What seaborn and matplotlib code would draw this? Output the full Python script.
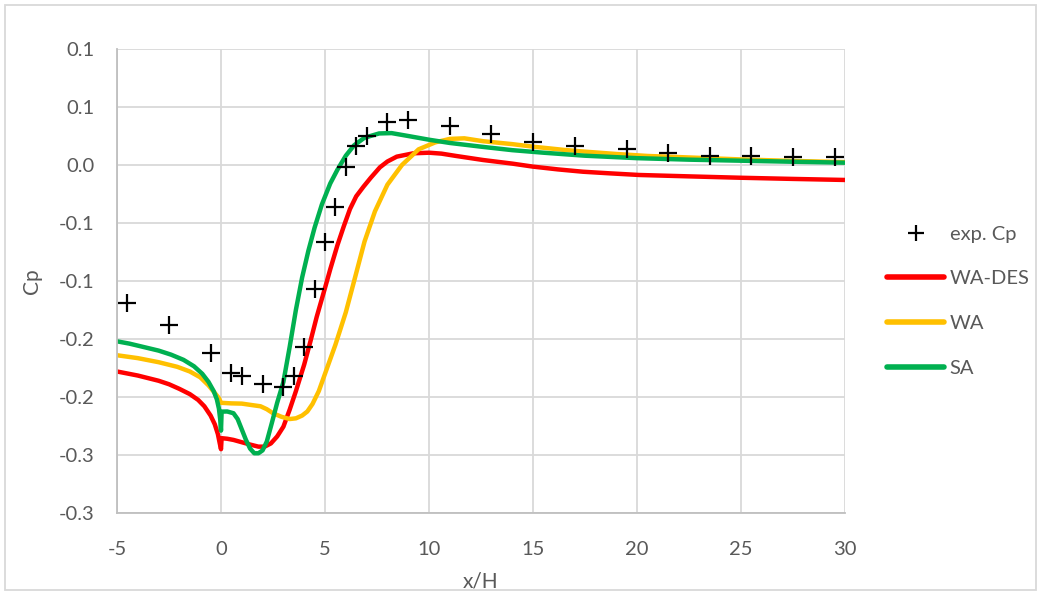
import matplotlib
matplotlib.use("Agg")
import matplotlib.pyplot as plt
from matplotlib.patches import Rectangle
from matplotlib.lines import Line2D
import pandas as pd
import seaborn as sns

# Experimental pressure coefficient
x_exp = [-4.5, -2.5, -0.5, 0.5, 1.0, 2.0, 3.0, 3.5, 4.0, 4.5, 5.0, 5.5, 6.0, 6.5, 7.0,
         8.0, 9.0, 11.0, 13.0, 15.0, 17.0, 19.5, 21.5, 23.5, 25.5, 27.5, 29.5]
cp_exp = [-0.119, -0.138, -0.162, -0.179, -0.182, -0.189, -0.191, -0.182, -0.157, -0.107,
          -0.066, -0.036, -0.002, 0.016, 0.025, 0.037, 0.039, 0.034, 0.027, 0.020, 0.016,
          0.014, 0.0106, 0.008, 0.0078, 0.0069, 0.0066]

# WA-DES
x_wades = [-5.0, -4.0, -3.0, -2.5, -2.0, -1.5, -1.1, -0.8, -0.5, -0.3, -0.15, -0.06, 0.0,
           0.03, 0.3, 0.6, 1.0, 1.4, 1.8, 2.1, 2.4, 2.7, 3.0, 3.3, 3.6, 4.0, 4.3, 4.6, 5.0,
           5.25, 5.6, 5.9, 6.2, 6.5, 6.85, 7.2, 7.64, 8.0, 8.45, 9.25, 10.0, 10.6, 11.3,
           12.6, 14.0, 15.0, 16.2, 17.4, 18.7, 20.1, 22.5, 25.0, 27.5, 30.0]
cp_wades = [-0.178, -0.1815, -0.186, -0.189, -0.193, -0.1975, -0.2025, -0.208, -0.216,
            -0.2235, -0.232, -0.240, -0.245, -0.2355, -0.236, -0.237, -0.239, -0.241,
            -0.2428, -0.2428, -0.240, -0.234, -0.2256, -0.211, -0.195, -0.172, -0.152,
            -0.131, -0.106, -0.090, -0.069, -0.053, -0.038, -0.027, -0.0187, -0.011,
            -0.002, 0.003, 0.0072, 0.0101, 0.0106, 0.0098, 0.0078, 0.0043, 0.0012, -0.0014,
            -0.0038, -0.0058, -0.0072, -0.0086, -0.0098, -0.011, -0.012, -0.0129]

# WA
x_wa = [-5.0, -4.0, -3.0, -2.1, -1.5, -1.0, -0.6, -0.3, -0.1, 0.0, 0.5, 1.0, 1.5, 1.9, 2.2,
        2.5, 2.9, 3.3, 3.6, 3.9, 4.15, 4.4, 4.7, 5.0, 5.5, 6.0, 6.4, 6.9, 7.4, 8.0, 8.7, 9.5,
        10.3, 11.0, 11.7, 12.6, 14.0, 15.0, 16.5, 17.5, 19.0, 20.5, 22.5, 25.0, 27.5, 30.0]
cp_wa = [-0.164, -0.1665, -0.170, -0.174, -0.178, -0.183, -0.190, -0.1965, -0.201, -0.205,
         -0.2055, -0.2057, -0.207, -0.208, -0.2105, -0.214, -0.217, -0.219, -0.2184, -0.216,
         -0.2125, -0.206, -0.195, -0.180, -0.155, -0.127, -0.100, -0.066, -0.040, -0.017,
         0.0, 0.0135, 0.0195, 0.0225, 0.023, 0.0205, 0.018, 0.0158, 0.013, 0.0115, 0.0095,
         0.0078, 0.0065, 0.0048, 0.0035, 0.0025]

# SA
x_sa = [-5.0, -4.4, -3.7, -3.0, -2.4, -1.8, -1.3, -0.9, -0.6, -0.35, -0.2, -0.1, -0.04, 0.0,
        0.03, 0.3, 0.6, 0.8, 1.0, 1.2, 1.4, 1.6, 1.8, 2.0, 2.2, 2.45, 2.7, 3.0, 3.3, 3.6,
        3.9, 4.2, 4.5, 4.85, 5.25, 5.6, 6.0, 6.4, 6.9, 7.6, 8.2, 9.0, 10.0, 11.0, 12.5,
        14.0, 15.5, 17.5, 20.0, 22.5, 25.0, 27.5, 30.0]
cp_sa = [-0.152, -0.154, -0.157, -0.160, -0.1635, -0.168, -0.1735, -0.180, -0.187, -0.195,
         -0.202, -0.210, -0.219, -0.229, -0.2126, -0.2125, -0.214, -0.219, -0.228, -0.237,
         -0.2445, -0.2485, -0.2485, -0.246, -0.2385, -0.222, -0.205, -0.187, -0.157, -0.125,
         -0.097, -0.074, -0.054, -0.034, -0.016, -0.004, 0.008, 0.017, 0.0235, 0.0272,
         0.0275, 0.025, 0.0218, 0.019, 0.0158, 0.0128, 0.0106, 0.0080, 0.0059, 0.0046,
         0.0037, 0.0028, 0.002]

x_ticks = [-5, 0, 5, 10, 15, 20, 25, 30]
y_ticks = [0.10, 0.05, 0.00, -0.05, -0.10, -0.15, -0.20, -0.25, -0.30]
y_tick_labels = ["0.1", "0.1", "0.0", "-0.1", "-0.1", "-0.2", "-0.2", "-0.3", "-0.3"]

series_names = ["WA-DES", "WA", "SA"]
series_colors = ["#FF0000", "#FFC000", "#00B050"]

sns.set_theme(style="white")
plt.rcParams["font.family"] = ["Lato", "DejaVu Sans"]

text_color = "#595959"
grid_color = "#D9D9D9"

fig = plt.figure(figsize=(10.41, 5.95), dpi=100)
fig.patches.append(Rectangle((0.005, 0.008), 0.99, 0.984, transform=fig.transFigure,
                             fill=False, edgecolor=grid_color, linewidth=1.3))

ax = fig.add_axes([117 / 1041, 1 - 513 / 595, (845 - 117) / 1041, (513 - 49) / 595])

lines_df = pd.concat([
    pd.DataFrame({"x": x_wades, "cp": cp_wades, "model": "WA-DES"}),
    pd.DataFrame({"x": x_wa, "cp": cp_wa, "model": "WA"}),
    pd.DataFrame({"x": x_sa, "cp": cp_sa, "model": "SA"}),
], ignore_index=True)
exp_df = pd.DataFrame({"x": x_exp, "cp": cp_exp})

sns.lineplot(data=lines_df, x="x", y="cp", hue="model", hue_order=series_names,
             palette=series_colors, linewidth=3.2, sort=False, estimator=None,
             legend=False, ax=ax, solid_capstyle="round", solid_joinstyle="round")
sns.scatterplot(data=exp_df, x="x", y="cp", marker="+", color="black", s=150,
                linewidth=1.6, zorder=5, legend=False, ax=ax)

ax.set_xlim(-5, 30)
ax.set_ylim(-0.30, 0.10)
ax.set_xticks(x_ticks)
ax.set_xticklabels([str(t) for t in x_ticks])
ax.set_yticks(y_ticks)
ax.set_yticklabels(y_tick_labels)
ax.tick_params(axis="both", length=0, labelsize=14.5, labelcolor=text_color)
ax.tick_params(axis="x", pad=20)
ax.tick_params(axis="y", pad=16)

ax.grid(True, color=grid_color, linewidth=1.3)
ax.set_axisbelow(True)
for side in ["top", "right"]:
    ax.spines[side].set_visible(False)
for side in ["left", "bottom"]:
    ax.spines[side].set_color("#BFBFBF")
    ax.spines[side].set_linewidth(1.3)

ax.set_xlabel("x/H", fontsize=15, color=text_color, labelpad=10)
ax.set_ylabel("Cp", fontsize=15, color=text_color, labelpad=12)

handles = [Line2D([], [], linestyle="none", marker="+", color="black",
                  markersize=12, markeredgewidth=1.6)]
for name, col in zip(series_names, series_colors):
    handles.append(Line2D([], [], color=col, linewidth=4, solid_capstyle="round"))
fig.legend(handles, ["exp. Cp"] + series_names, loc="center left",
           bbox_to_anchor=(0.835, 0.494), frameon=False, fontsize=14.5,
           labelcolor=text_color, handlelength=2.8, handletextpad=0.3,
           labelspacing=1.37)

fig.savefig("out.png", dpi=100)
